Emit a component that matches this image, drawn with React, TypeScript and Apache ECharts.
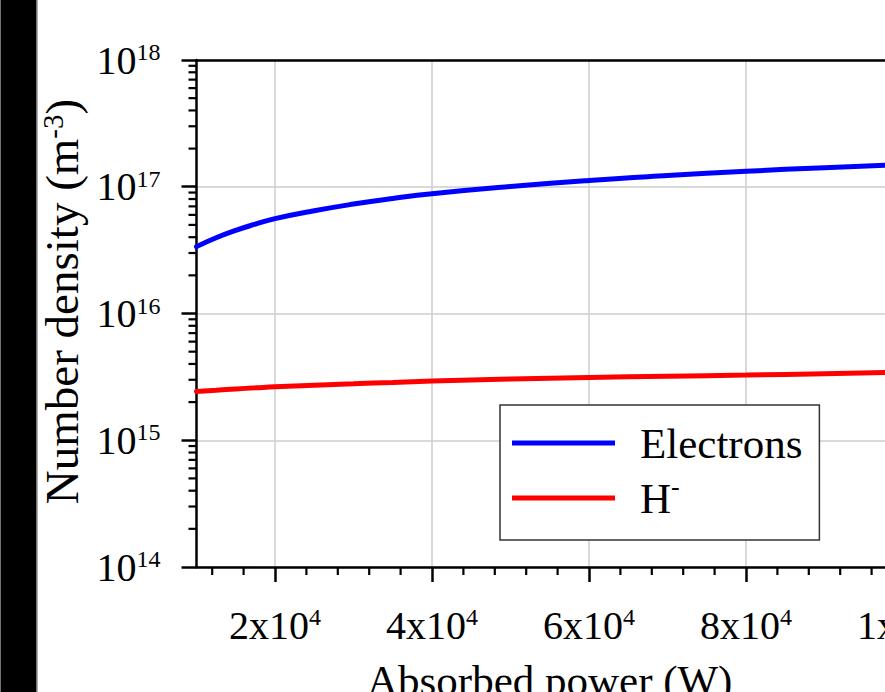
import React, { useEffect, useRef } from "react";
import * as echarts from "echarts";

const FONT = "'Liberation Serif', 'Times New Roman', serif";

// X values (absorbed power, W)
const powerW = [10000, 12500, 15000, 17500, 20000, 25000, 30000, 35000, 40000, 50000, 60000, 70000, 80000, 90000, 100000];
// Electron number density (m^-3)
const electrons = [3.37e16, 3.96e16, 4.53e16, 5.07e16, 5.6e16, 6.47e16, 7.3e16, 8.08e16, 8.81e16, 1.004e17, 1.12e17, 1.225e17, 1.325e17, 1.415e17, 1.5e17];
// H- number density (m^-3)
const hMinus = [2.42e15, 2.48e15, 2.54e15, 2.59e15, 2.64e15, 2.72e15, 2.79e15, 2.86e15, 2.93e15, 3.04e15, 3.13e15, 3.2e15, 3.27e15, 3.35e15, 3.44e15];

const xMajorTicks = [20000, 40000, 60000, 80000, 100000];
const xMinorTicks = [12000, 16000, 24000, 28000, 32000, 36000, 44000, 48000, 52000, 56000, 64000, 68000, 72000, 76000, 84000, 88000, 92000, 96000];
const yDecades = [1e14, 1e15, 1e16, 1e17];
const yMinorMultipliers = [2, 3, 4, 5, 6, 7, 8, 9];

const X_MIN = 10000;
const X_MAX = 100000;
const Y_MIN = 1e14;
const Y_MAX = 1e18;

const yMinorTicks: number[] = [];
yDecades.forEach((d) => yMinorMultipliers.forEach((m) => yMinorTicks.push(d * m)));

function supLabel(v: number) {
  const e = Math.floor(Math.log10(v) + 1e-9);
  const m = Math.round(v / Math.pow(10, e));
  return `{b|${m}x10}{s|${e}}`;
}

function buildOption(): any {
  const pairs = (ys: number[]) => powerW.map((x, i) => [x, ys[i]]);
  return {
    animation: false,
    backgroundColor: "#fff",
    textStyle: { fontFamily: FONT },
    graphic: [
      {
        type: "rect",
        shape: { x: 0, y: -5, width: 37, height: 710 },
        style: { fill: "#000", stroke: "#999", lineWidth: 1.5 },
        z: 100,
      },
    ],
    grid: {
      left: 196.5,
      top: 60,
      width: 706.5,
      height: 507,
      show: false,
      containLabel: false,
      outerBoundsMode: "none",
    },
    legend: {
      data: ["Electrons", "H-"],
      orient: "vertical",
      left: 500,
      top: 405,
      padding: [13, 17, 17, 12],
      borderColor: "#333",
      borderWidth: 1.5,
      backgroundColor: "#fff",
      itemWidth: 103,
      itemHeight: 5,
      itemGap: 5,
      icon: "rect",
      formatter: (name: string) => (name === "H-" ? "H{sup|-}" : name),
      textStyle: {
        fontFamily: FONT,
        fontSize: 43,
        color: "#000",
        lineHeight: 50,
        padding: [0, 0, 0, 20],
        rich: {
          sup: { fontFamily: FONT, fontSize: 26, color: "#000", verticalAlign: "top", lineHeight: 26 },
        },
      },
    },
    xAxis: [
      {
        type: "value",
        min: X_MIN,
        max: X_MAX,
        name: "Absorbed power (W)",
        nameLocation: "middle",
        nameGap: 92,
        nameTextStyle: { fontFamily: FONT, fontSize: 43, color: "#000" },
        axisLine: { show: true, lineStyle: { color: "#000", width: 2.5 } },
        axisTick: {
          show: true,
          inside: false,
          length: 15,
          customValues: xMajorTicks,
          lineStyle: { color: "#000", width: 2.5 },
        },
        axisLabel: {
          customValues: xMajorTicks,
          margin: 38,
          formatter: (v: number) => supLabel(v),
          rich: {
            b: { fontFamily: FONT, fontSize: 40, color: "#000", lineHeight: 40 },
            s: { fontFamily: FONT, fontSize: 24, color: "#000", verticalAlign: "top", lineHeight: 24 },
          },
        },
        splitLine: { show: true, lineStyle: { color: "#cccccc", width: 1.5 } },
        z: 3,
      },
      {
        type: "value",
        position: "top",
        min: X_MIN,
        max: X_MAX,
        axisLine: { show: true, lineStyle: { color: "#000", width: 2.5 } },
        axisTick: { show: false },
        axisLabel: { show: false },
        splitLine: { show: false },
        z: 6,
      },
    ],
    yAxis: {
      type: "log",
      logBase: 10,
      min: Y_MIN,
      max: Y_MAX,
      name: "Number density (m{sup|-3})",
      nameLocation: "middle",
      nameGap: 104,
      nameTextStyle: {
        fontFamily: FONT,
        fontSize: 47,
        color: "#000",
        padding: [0, 0, 0, 24],
        rich: {
          sup: { fontFamily: FONT, fontSize: 29, color: "#000", verticalAlign: "top", lineHeight: 29 },
        },
      },
      axisLine: { show: true, lineStyle: { color: "#000", width: 2.5 } },
      axisTick: { show: true, inside: false, length: 15, lineStyle: { color: "#000", width: 2.5 } },
      axisLabel: {
        margin: 36,
        formatter: (v: number) => `{b|10}{s|${Math.round(Math.log10(v))}}`,
        rich: {
          b: { fontFamily: FONT, fontSize: 40, color: "#000", lineHeight: 40 },
          s: { fontFamily: FONT, fontSize: 24, color: "#000", verticalAlign: "top", lineHeight: 24 },
        },
      },
      splitLine: { show: true, lineStyle: { color: "#cccccc", width: 1.5 } },
      z: 3,
    },
    series: [
      {
        name: "Electrons",
        type: "line",
        data: pairs(electrons),
        smooth: true,
        symbol: "none",
        showSymbol: false,
        lineStyle: { color: "#0000ff", width: 5, cap: "round" },
        itemStyle: { color: "#0000ff" },
        z: 10,
      },
      {
        name: "H-",
        type: "line",
        data: pairs(hMinus),
        smooth: true,
        symbol: "none",
        showSymbol: false,
        lineStyle: { color: "#ff0000", width: 5, cap: "round" },
        itemStyle: { color: "#ff0000" },
        z: 10,
      },
      {
        name: "yMinor",
        type: "custom",
        silent: true,
        clip: false,
        z: 20,
        data: yMinorTicks.map((v) => [X_MIN, v]),
        renderItem: (_params: any, api: any) => {
          const p = api.coord([api.value(0), api.value(1)]);
          return {
            type: "line",
            shape: { x1: p[0] - 8, y1: p[1], x2: p[0], y2: p[1] },
            style: { stroke: "#000", lineWidth: 2.2 },
          };
        },
      },
      {
        name: "xMinor",
        type: "custom",
        silent: true,
        clip: false,
        z: 20,
        data: xMinorTicks.map((v) => [v, Y_MIN]),
        renderItem: (_params: any, api: any) => {
          const p = api.coord([api.value(0), api.value(1)]);
          return {
            type: "line",
            shape: { x1: p[0], y1: p[1], x2: p[0], y2: p[1] + 8 },
            style: { stroke: "#000", lineWidth: 2.2 },
          };
        },
      },
    ],
  };
}

export default function App() {
  const ref = useRef<HTMLDivElement>(null);
  useEffect(() => {
    document.body.style.margin = "0";
    document.body.style.overflow = "hidden";
    const chart = echarts.init(ref.current!, null, { renderer: "svg" });
    chart.setOption(buildOption());
    return () => chart.dispose();
  }, []);
  return (
    <div
      style={{
        position: "fixed",
        left: 0,
        top: 0,
        width: 885,
        height: 692,
        overflow: "hidden",
        background: "#fff",
      }}
    >
      <div ref={ref} style={{ width: 960, height: 692 }} />
    </div>
  );
}
